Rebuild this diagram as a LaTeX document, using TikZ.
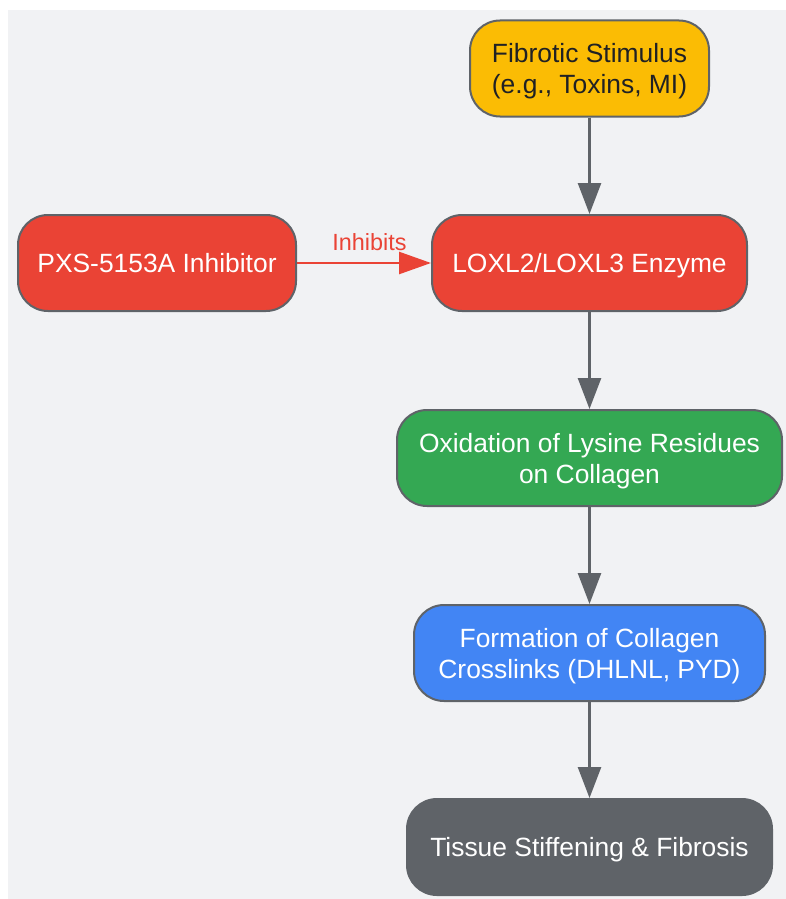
\documentclass[tikz,border=0pt]{standalone}
\usepackage{fontspec}
\setmainfont{Liberation Sans}
\usetikzlibrary{arrows.meta}
\definecolor{bgc}{HTML}{F1F2F4}
\definecolor{gyellow}{HTML}{FBBC04}
\definecolor{gred}{HTML}{EA4335}
\definecolor{ggreen}{HTML}{34A853}
\definecolor{gblue}{HTML}{4285F4}
\definecolor{ggrey}{HTML}{5F6368}
\definecolor{gdark}{HTML}{202124}
\newcommand{\lstrut}{\rule[-5.6pt]{0pt}{30.2pt}}
\tikzset{
  box/.style={draw=ggrey, line width=2pt, rounded corners=30pt, inner sep=0pt,
    minimum height=96pt, align=center, text=white,
    font=\fontsize{26.4}{31}\selectfont},
  flow/.style={draw=ggrey, line width=2.6pt, -{Triangle[length=31pt,width=23pt]}},
  inhib/.style={draw=gred, line width=2.6pt, -{Triangle[length=32pt,width=22pt]}},
}
\begin{document}
\begin{tikzpicture}[x=1pt,y=-1pt]
\useasboundingbox (0,0) rectangle (786,899);
\fill[bgc] (8,10) rectangle (786,899);
\node[box, fill=gyellow, text=gdark, minimum width=239pt] (stim) at (589.5,68.5) {\lstrut Fibrotic Stimulus\\\lstrut(e.g., Toxins, MI)};
\node[box, fill=gred, minimum width=278pt] (inh) at (157,263) {\lstrut PXS-5153A Inhibitor};
\node[box, fill=gred, minimum width=315pt] (lox) at (589.5,263) {\lstrut LOXL2/LOXL3 Enzyme};
\node[box, fill=ggreen, minimum width=385pt] (oxi) at (589.5,458) {\lstrut Oxidation of Lysine Residues\\\lstrut on Collagen};
\node[box, fill=gblue, minimum width=351pt] (form) at (589.5,653) {\lstrut Formation of Collagen\\\lstrut Crosslinks (DHLNL, PYD)};
\node[box, fill=ggrey, minimum width=365pt] (tis) at (589.5,847) {\lstrut Tissue Stiffening \& Fibrosis};
\draw[flow] (stim) -- (lox);
\draw[flow] (lox) -- (oxi);
\draw[flow] (oxi) -- (form);
\draw[flow] (form) -- (tis);
\draw[inhib] (inh) -- node[anchor=base, inner sep=0pt, xshift=5.5pt, yshift=13pt, text=gred, font=\fontsize{23.4}{26}\selectfont] (lab) {Inhibits} (lox);
\end{tikzpicture}
\end{document}
